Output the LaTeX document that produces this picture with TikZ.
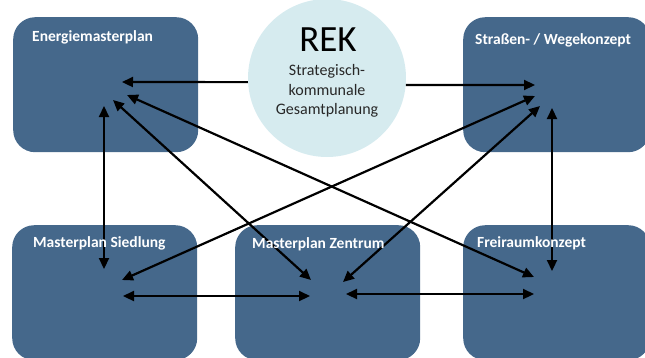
\documentclass[tikz,border=0pt]{standalone}
\usepackage{fontspec}
\setmainfont{Carlito}
\usetikzlibrary{arrows.meta}
\definecolor{boxblue}{RGB}{69,104,139}
\definecolor{rekfill}{RGB}{214,235,239}
\definecolor{subtext}{RGB}{40,40,40}
\begin{document}
\begin{tikzpicture}[x=1pt,y=-1pt,
  panel/.style={fill=boxblue, rounded corners=22pt, minimum width=185pt, minimum height=135pt, anchor=north west, inner sep=0pt, draw=none},
  paneltitle/.style={anchor=west, text=white, font=\bfseries\fontsize{15.5}{18}\selectfont, inner sep=0pt},
  link/.style={line width=2.2pt, {Triangle[length=11pt,width=10pt]}-{Triangle[length=11pt,width=10pt]}},
  oneway/.style={line width=2.2pt, -{Triangle[length=11pt,width=10pt]}}]
\useasboundingbox (0,0) rectangle (645,357);
\clip (0,0) rectangle (645,357);
% panels
\node[panel] (energie) at (13,17) {};
\node[panel, minimum width=187pt] (strassen) at (463,17) {};
\node[panel] (siedlung) at (12,225) {};
\node[panel] (zentrum) at (235,225) {};
\node[panel, minimum width=187pt] (freiraum) at (463,225) {};
% REK circle
\node[circle, fill=rekfill, minimum size=158pt, inner sep=0pt] (rek) at (327,78) {};
\node[font=\fontsize{37}{40}\selectfont, inner sep=0pt] (rektitle) at (328,40) {REK};
\node[align=center, text=subtext, font=\fontsize{16}{19.5}\selectfont, inner sep=0pt] (reksub) at (327,91) {Strategisch-\\kommunale\\Gesamtplanung};
% arrow end points
\coordinate (eR) at (122,82);
\coordinate (eF) at (127,95);
\coordinate (eZ) at (113,100);
\coordinate (eS) at (104,106);
\coordinate (sR) at (535,85);
\coordinate (sS) at (535,96);
\coordinate (sZ) at (540,106);
\coordinate (sF) at (552,108);
\coordinate (siE) at (104,269);
\coordinate (siS) at (122,280);
\coordinate (siZ) at (123,296);
\coordinate (zE) at (311,280);
\coordinate (zS) at (343,282);
\coordinate (zSi) at (310,296);
\coordinate (zF) at (346,294);
\coordinate (fE) at (534,277);
\coordinate (fS) at (552,271);
\coordinate (fZ) at (534,294);
% connectors
\draw[oneway] (rek.183) -- (eR);
\draw[oneway] (rek.-5) -- (sR);
\draw[link] (eF) -- (fE);
\draw[link] (eZ) -- (zE);
\draw[link] (eS) -- (siE);
\draw[link] (sS) -- (siS);
\draw[link] (sZ) -- (zS);
\draw[link] (sF) -- (fS);
\draw[link] (siZ) -- (zSi);
\draw[link] (zF) -- (fZ);
% titles (drawn over the connectors)
\node[paneltitle] (tEnergie) at (32,37) {Energiemasterplan};
\node[paneltitle] (tStrassen) at (475,40) {Straßen- / Wegekonzept};
\node[paneltitle] (tSiedlung) at (33,243) {Masterplan Siedlung};
\node[paneltitle] (tZentrum) at (252,244) {Masterplan Zentrum};
\node[paneltitle] (tFreiraum) at (477,243) {Freiraumkonzept};
\end{tikzpicture}
\end{document}
